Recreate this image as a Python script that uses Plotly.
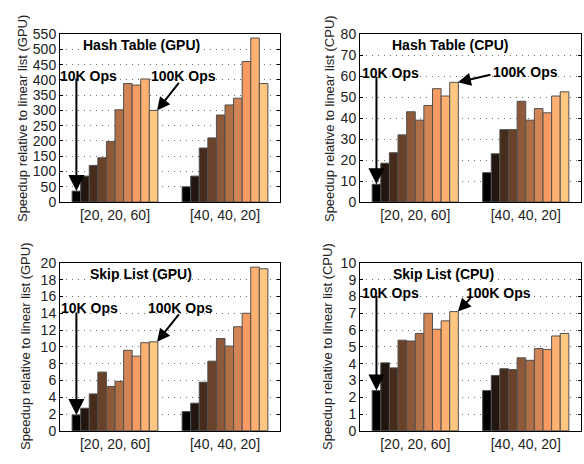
import plotly.graph_objects as go

W, H = 584, 464

groups = ["[20, 20, 60]", "[40, 40, 20]"]

hash_gpu_g1 = [36, 85, 120, 145, 198, 302, 388, 383, 403, 300]
hash_gpu_g2 = [50, 85, 177, 210, 285, 318, 340, 460, 537, 388]

hash_cpu_g1 = [8.5, 18.5, 23.5, 32, 43, 39, 46, 54, 50.5, 57]
hash_cpu_g2 = [14, 23, 34.5, 34.5, 48, 39, 44.5, 42.5, 50.5, 52.5]

skip_gpu_g1 = [1.9, 2.7, 4.4, 7.0, 5.3, 5.9, 9.6, 8.9, 10.5, 10.6]
skip_gpu_g2 = [2.3, 3.3, 5.8, 8.3, 11.0, 10.1, 12.4, 14.0, 19.5, 19.3]

skip_cpu_g1 = [2.4, 4.05, 3.75, 5.4, 5.35, 5.8, 7.0, 6.05, 6.55, 7.1]
skip_cpu_g2 = [2.4, 3.3, 3.7, 3.65, 4.35, 4.2, 4.9, 4.85, 5.65, 5.8]

panels = [
    dict(g1=hash_gpu_g1, g2=hash_gpu_g2, title="Hash Table (GPU)", ytitle="Speedup relative to linear list (GPU)",
         ymax=550, dtick=50),
    dict(g1=hash_cpu_g1, g2=hash_cpu_g2, title="Hash Table (CPU)", ytitle="Speedup relative to linear list (CPU)",
         ymax=80, dtick=10),
    dict(g1=skip_gpu_g1, g2=skip_gpu_g2, title="Skip List (GPU)", ytitle="Speedup relative to linear list (GPU)",
         ymax=20, dtick=2),
    dict(g1=skip_cpu_g1, g2=skip_cpu_g2, title="Skip List (CPU)", ytitle="Speedup relative to linear list (CPU)",
         ymax=10, dtick=1),
]

# pixel layout of each plot box: (left, right, top, bottom)
boxes = [(60, 280, 27, 201), (360, 581, 27, 201), (60, 280, 264, 438), (360, 581, 264, 438)]

# annotation placement (pixels): title, 10K text, 100K text, 10K arrow tail offset, 100K arrow tail offset
ann_pos = [
    dict(title=(141.5, 38), t10=(88, 70), t100=(183, 70), a10=(0, -114), a100=(23, -29), f100=0.4),
    dict(title=(450, 38), t10=(390, 67), t100=(525, 66), a10=(0, -109), a100=(34, -8), f100=0.45),
    dict(title=(141, 276), t10=(89, 311), t100=(180, 311), a10=(0, -104), a100=(23, -29), f100=0.4),
    dict(title=(443, 276), t10=(390, 295), t100=(498, 295), a10=(0, -96), a100=(14, -15), f100=0.45),
]
ytitle_pos = [(22, 115), (329, 115), (26, 351), (328, 351)]


def copper(t):
    r = min(1.0, 1.25 * t)
    g = 0.7812 * t
    b = 0.4975 * t
    return "rgb(%d,%d,%d)" % (round(r * 255), round(g * 255), round(b * 255))


n = 10
colors = [copper(i / (n - 1)) for i in range(n)]
bargap = 0.22
bw = (1 - bargap) / n

fig = go.Figure()
FONT = "Liberation Sans, Arial, Helvetica, sans-serif"
annotations = []

for k, p in enumerate(panels):
    xa = "x" if k == 0 else "x%d" % (k + 1)
    ya = "y" if k == 0 else "y%d" % (k + 1)
    for i in range(n):
        fig.add_trace(go.Bar(
            x=[0, 1], y=[p["g1"][i], p["g2"][i]],
            xaxis=xa, yaxis=ya,
            marker=dict(color=colors[i], line=dict(color="rgb(80,80,80)", width=1)),
            showlegend=False, offsetgroup=str(i),
        ))
    l, r, t, b = boxes[k]
    axn = "" if k == 0 else str(k + 1)
    fig.layout["xaxis" + axn] = dict(
        domain=[l / W, r / W], anchor=ya, range=[-0.5, 1.5],
        tickvals=[0, 1], ticktext=groups, ticks="", showgrid=False,
        showline=True, linecolor="black", linewidth=1, mirror=True,
        tickfont=dict(family=FONT, size=14, color="#222"), zeroline=False,
    )
    fig.layout["yaxis" + axn] = dict(
        domain=[1 - b / H, 1 - t / H], anchor=xa, range=[0, p["ymax"]], dtick=p["dtick"],
        showline=True, linecolor="black", linewidth=1, mirror="ticks",
        ticks="inside", ticklen=3, tickcolor="black",
        showgrid=True, gridcolor="rgb(110,110,110)", griddash="1px,5px", gridwidth=1,
        tickfont=dict(family=FONT, size=14, color="#222"), zeroline=False,
    )
    a = ann_pos[k]
    bold = dict(family=FONT, size=14, color="black")
    for key, txt in (("title", p["title"]), ("t10", "10K Ops"), ("t100", "100K Ops")):
        px, py = a[key]
        annotations.append(dict(xref="paper", yref="paper", x=px / W, y=1 - py / H,
                                text="<b>%s</b>" % txt, showarrow=False, font=bold,
                                xanchor="center", yanchor="middle"))
    # arrows pointing to first bar of 10K group and last bar (100K)
    x_first = -(1 - bargap) / 2 + 0.5 * bw
    x_last = -(1 - bargap) / 2 + 9.5 * bw + a["f100"] * bw
    annotations.append(dict(xref=xa, yref=ya, x=x_first, y=p["g1"][0], text="",
                            showarrow=True, arrowhead=2, arrowsize=1.6, arrowwidth=2,
                            arrowcolor="black", ax=a["a10"][0], ay=a["a10"][1], standoff=0))
    annotations.append(dict(xref=xa, yref=ya, x=x_last, y=p["g1"][9], text="",
                            showarrow=True, arrowhead=2, arrowsize=1.3, arrowwidth=2,
                            arrowcolor="black", ax=a["a100"][0], ay=a["a100"][1], standoff=0))
    px, py = ytitle_pos[k]
    annotations.append(dict(xref="paper", yref="paper", x=px / W, y=1 - py / H,
                            text=p["ytitle"], textangle=-90, showarrow=False,
                            font=dict(family=FONT, size=13, color="#222"),
                            xanchor="center", yanchor="middle"))

fig.update_layout(
    width=W, height=H, margin=dict(l=0, r=0, t=0, b=0),
    paper_bgcolor="white", plot_bgcolor="white",
    barmode="group", bargap=bargap, bargroupgap=0,
    annotations=annotations,
)

fig.write_html("out.html")
